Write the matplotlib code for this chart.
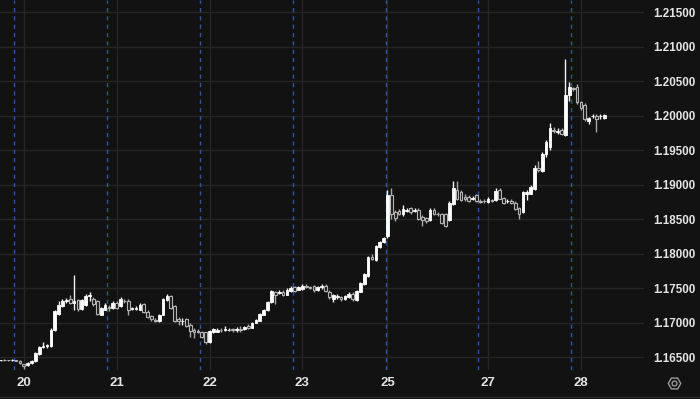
import matplotlib
matplotlib.use("Agg")
import matplotlib.pyplot as plt
from matplotlib.lines import Line2D
import numpy as np

# hourly candles (one bar per hour)
opens = [
    1.16460, 1.16462, 1.16458, 1.16455, 1.16462, 1.16450, 1.16400, 1.16385, 1.16420, 1.16440,
    1.16550, 1.16650, 1.16670, 1.16660, 1.16890, 1.17130, 1.17250, 1.17310, 1.17350, 1.17290,
    1.17330, 1.17200, 1.17260, 1.17390, 1.17350, 1.17310, 1.17120, 1.17190, 1.17230, 1.17210,
    1.17290, 1.17240, 1.17320, 1.17320, 1.17200, 1.17200, 1.17190, 1.17270, 1.17160, 1.17100,
    1.17040, 1.17030, 1.17120, 1.17330, 1.17390, 1.17240, 1.17050, 1.17020, 1.17050, 1.16970,
    1.16900, 1.16880, 1.16860, 1.16860, 1.16720, 1.16860, 1.16870, 1.16900, 1.16900, 1.16900,
    1.16910, 1.16900, 1.16910, 1.16910, 1.16960, 1.16930, 1.17000, 1.17030, 1.17120, 1.17180,
    1.17300, 1.17440, 1.17430, 1.17450, 1.17410, 1.17460, 1.17520, 1.17480, 1.17490, 1.17530,
    1.17520, 1.17530, 1.17470, 1.17520, 1.17540, 1.17450, 1.17340, 1.17380, 1.17370, 1.17340,
    1.17370, 1.17420, 1.17330, 1.17450, 1.17560, 1.17680, 1.17960, 1.17910, 1.18100, 1.18170,
    1.18260, 1.18850, 1.18610, 1.18620, 1.18570, 1.18620, 1.18660, 1.18620, 1.18640, 1.18530,
    1.18520, 1.18490, 1.18630, 1.18580, 1.18570, 1.18570, 1.18490, 1.18720, 1.18930, 1.18900,
    1.18820, 1.18830, 1.18800, 1.18850, 1.18760, 1.18770, 1.18750, 1.18780, 1.18780, 1.18930,
    1.18810, 1.18760, 1.18770, 1.18740, 1.18660, 1.18600, 1.18870, 1.18870, 1.18940, 1.19250,
    1.19200, 1.19450, 1.19550, 1.19800, 1.19770, 1.19790, 1.19720, 1.20300, 1.20400, 1.20410,
    1.20200, 1.20160, 1.19920, 1.19990, 1.20000, 1.19990, 1.19970,
]
highs = [
    1.16468, 1.16470, 1.16466, 1.16470, 1.16468, 1.16455, 1.16410, 1.16430, 1.16460, 1.16570,
    1.16670, 1.16720, 1.16700, 1.16930, 1.17190, 1.17320, 1.17340, 1.17360, 1.17410, 1.17690,
    1.17350, 1.17350, 1.17420, 1.17440, 1.17370, 1.17330, 1.17230, 1.17280, 1.17260, 1.17310,
    1.17310, 1.17370, 1.17350, 1.17340, 1.17230, 1.17240, 1.17280, 1.17290, 1.17180, 1.17120,
    1.17070, 1.17130, 1.17360, 1.17420, 1.17410, 1.17260, 1.17080, 1.17070, 1.17070, 1.17000,
    1.16920, 1.16910, 1.16880, 1.16870, 1.16900, 1.16930, 1.16930, 1.16930, 1.16950, 1.16930,
    1.16930, 1.16940, 1.16950, 1.16960, 1.16980, 1.17010, 1.17050, 1.17140, 1.17200, 1.17310,
    1.17480, 1.17460, 1.17470, 1.17470, 1.17500, 1.17530, 1.17540, 1.17540, 1.17560, 1.17560,
    1.17540, 1.17550, 1.17540, 1.17560, 1.17560, 1.17470, 1.17420, 1.17420, 1.17390, 1.17410,
    1.17440, 1.17440, 1.17470, 1.17590, 1.17720, 1.17970, 1.17990, 1.18130, 1.18190, 1.18250,
    1.18930, 1.18960, 1.18640, 1.18650, 1.18700, 1.18670, 1.18680, 1.18660, 1.18660, 1.18560,
    1.18540, 1.18660, 1.18660, 1.18610, 1.18590, 1.18590, 1.18760, 1.19050, 1.19050, 1.18920,
    1.18870, 1.18850, 1.18840, 1.18870, 1.18800, 1.18790, 1.18830, 1.18800, 1.18950, 1.18950,
    1.18830, 1.18790, 1.18790, 1.18760, 1.18680, 1.18910, 1.18930, 1.18990, 1.19290, 1.19350,
    1.19470, 1.19650, 1.19900, 1.19840, 1.19830, 1.19820, 1.20830, 1.20490, 1.20420, 1.20460,
    1.20220, 1.20180, 1.19980, 1.20030, 1.20030, 1.20020, 1.20030,
]
lows = [
    1.16450, 1.16452, 1.16448, 1.16450, 1.16440, 1.16410, 1.16330, 1.16375, 1.16410, 1.16430,
    1.16540, 1.16640, 1.16640, 1.16650, 1.16880, 1.17120, 1.17230, 1.17290, 1.17270, 1.17180,
    1.17170, 1.17180, 1.17250, 1.17320, 1.17250, 1.17110, 1.17110, 1.17180, 1.17170, 1.17200,
    1.17200, 1.17230, 1.17280, 1.17120, 1.17180, 1.17190, 1.17180, 1.17140, 1.17070, 1.17030,
    1.17010, 1.17010, 1.17110, 1.17320, 1.17200, 1.17010, 1.16970, 1.16970, 1.16940, 1.16790,
    1.16780, 1.16850, 1.16780, 1.16700, 1.16710, 1.16850, 1.16860, 1.16870, 1.16880, 1.16880,
    1.16870, 1.16860, 1.16860, 1.16900, 1.16910, 1.16920, 1.16990, 1.17020, 1.17110, 1.17170,
    1.17290, 1.17270, 1.17420, 1.17390, 1.17400, 1.17450, 1.17440, 1.17470, 1.17480, 1.17500,
    1.17490, 1.17450, 1.17460, 1.17490, 1.17440, 1.17350, 1.17300, 1.17350, 1.17320, 1.17330,
    1.17360, 1.17320, 1.17320, 1.17440, 1.17550, 1.17660, 1.17910, 1.17900, 1.18090, 1.18150,
    1.18230, 1.18500, 1.18480, 1.18560, 1.18550, 1.18600, 1.18580, 1.18600, 1.18490, 1.18400,
    1.18450, 1.18480, 1.18560, 1.18550, 1.18430, 1.18390, 1.18480, 1.18710, 1.18780, 1.18760,
    1.18770, 1.18750, 1.18780, 1.18750, 1.18730, 1.18740, 1.18740, 1.18750, 1.18760, 1.18790,
    1.18720, 1.18730, 1.18720, 1.18630, 1.18500, 1.18590, 1.18780, 1.18860, 1.18930, 1.19180,
    1.19190, 1.19400, 1.19500, 1.19750, 1.19740, 1.19720, 1.19700, 1.20220, 1.20360, 1.20170,
    1.20080, 1.19930, 1.19880, 1.19970, 1.19770, 1.19960, 1.19960,
]
closes = [
    1.16462, 1.16458, 1.16455, 1.16462, 1.16445, 1.16415, 1.16370, 1.16420, 1.16450, 1.16560,
    1.16650, 1.16670, 1.16680, 1.16900, 1.17170, 1.17260, 1.17320, 1.17330, 1.17280, 1.17310,
    1.17200, 1.17330, 1.17390, 1.17410, 1.17270, 1.17130, 1.17210, 1.17260, 1.17220, 1.17290,
    1.17220, 1.17350, 1.17310, 1.17190, 1.17210, 1.17220, 1.17260, 1.17160, 1.17090, 1.17050,
    1.17030, 1.17120, 1.17340, 1.17390, 1.17220, 1.17030, 1.17030, 1.17030, 1.16960, 1.16880,
    1.16860, 1.16870, 1.16800, 1.16720, 1.16880, 1.16910, 1.16900, 1.16890, 1.16910, 1.16900,
    1.16890, 1.16910, 1.16900, 1.16940, 1.16930, 1.17000, 1.17040, 1.17130, 1.17190, 1.17300,
    1.17460, 1.17400, 1.17450, 1.17410, 1.17480, 1.17510, 1.17460, 1.17520, 1.17540, 1.17520,
    1.17510, 1.17470, 1.17520, 1.17530, 1.17460, 1.17370, 1.17400, 1.17390, 1.17350, 1.17390,
    1.17420, 1.17340, 1.17460, 1.17570, 1.17700, 1.17950, 1.17930, 1.18120, 1.18170, 1.18230,
    1.18850, 1.18580, 1.18520, 1.18580, 1.18650, 1.18640, 1.18600, 1.18630, 1.18510, 1.18490,
    1.18470, 1.18640, 1.18580, 1.18570, 1.18450, 1.18410, 1.18740, 1.18950, 1.18800, 1.18780,
    1.18800, 1.18770, 1.18810, 1.18770, 1.18750, 1.18760, 1.18800, 1.18770, 1.18910, 1.18800,
    1.18740, 1.18760, 1.18740, 1.18650, 1.18570, 1.18890, 1.18890, 1.18970, 1.19250, 1.19220,
    1.19450, 1.19620, 1.19820, 1.19780, 1.19780, 1.19740, 1.20300, 1.20420, 1.20390, 1.20200,
    1.20120, 1.19950, 1.19970, 1.20000, 1.19950, 1.19990, 1.20010,
]

day_labels = ["20", "21", "22", "23", "25", "27", "28"]
day_label_bars = [6, 30, 54, 78, 100, 126, 150]
session_breaks = [3.5, 27.5, 51.5, 75.5, 99.5, 123.5, 147.5]
price_ticks = [1.165, 1.17, 1.175, 1.18, 1.185, 1.19, 1.195, 1.20, 1.205, 1.21, 1.215]

BG = "#121212"
GRID = "#262626"
TEXT = "#e4e4e4"

o = np.array(opens)
h = np.array(highs)
l = np.array(lows)
c = np.array(closes)
x = np.arange(len(o))
up = c >= o

fig = plt.figure(figsize=(7.0, 3.99), dpi=100, facecolor=BG)
ax = fig.add_axes([0, 29 / 399, 644 / 700, 370 / 399])
ax.set_facecolor(BG)

for y in price_ticks:
    ax.axhline(y, color=GRID, lw=1, zorder=0)
for xb in day_label_bars:
    ax.axvline(xb, color=GRID, lw=1, zorder=0)
for xb in session_breaks:
    ax.axvline(xb, color="#2a58a8", lw=1, ls=(0, (3, 3)), zorder=1)

# wicks
ax.vlines(x[up], l[up], h[up], color="#f2f2f2", lw=1, zorder=2)
ax.vlines(x[~up], l[~up], h[~up], color="#a8a8a8", lw=1, zorder=2)

# bodies
body_lo = np.minimum(o, c)
body_h = np.maximum(np.abs(c - o), 0.00002)
ax.bar(x[up], body_h[up], bottom=body_lo[up], width=0.7,
       color="#ffffff", edgecolor="#ffffff", lw=0.6, zorder=3)
ax.bar(x[~up], body_h[~up], bottom=body_lo[~up], width=0.7,
       color="#1a1a1a", edgecolor="#b4b4b4", lw=0.8, zorder=3)

ax.set_xlim(-0.15, 166.3)
ax.set_ylim(1.16316, 1.21678)

ax.yaxis.tick_right()
ax.set_yticks(price_ticks)
ax.set_yticklabels([f"{p:.5f}" for p in price_ticks])
ax.set_xticks(day_label_bars)
ax.set_xticklabels(day_labels)
ax.tick_params(axis="both", length=0, colors=TEXT)
ax.tick_params(axis="y", pad=6.5, labelsize=8.4)
ax.tick_params(axis="x", pad=5, labelsize=9.5)
for lab in ax.get_xticklabels() + ax.get_yticklabels():
    lab.set_fontweight("bold")
    lab.set_fontfamily("Liberation Sans")
for s in ax.spines.values():
    s.set_visible(False)

# bottom border and settings icon
fig.add_artist(Line2D([0, 1], [2.3 / 399, 2.3 / 399], color="#2a2a2a", lw=1))
fig.add_artist(Line2D([674 / 700], [1 - 383 / 399], marker="H", ms=9,
                      mfc="none", mec="#9a9a9a", mew=1))
fig.add_artist(Line2D([674 / 700], [1 - 383 / 399], marker="o", ms=3.5,
                      mfc="none", mec="#9a9a9a", mew=1))

fig.savefig("out.png", dpi=100, facecolor=BG)
